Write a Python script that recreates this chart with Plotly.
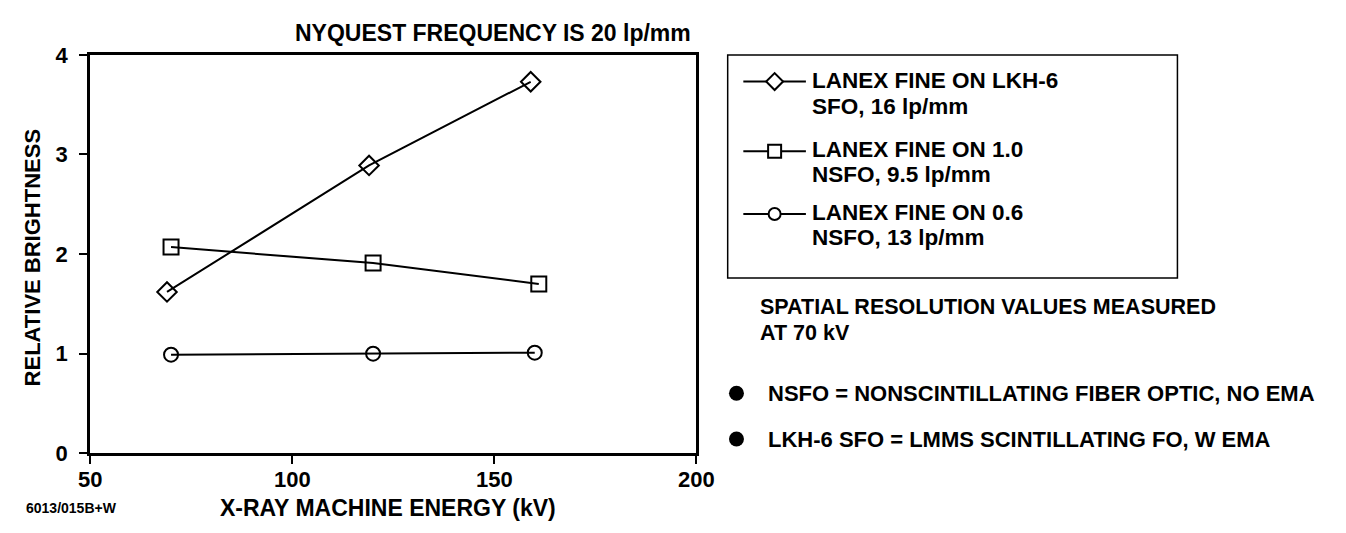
import plotly.graph_objects as go

W, H = 1346, 533

# ---- data ----
energy_lkh6 = [69, 119, 159]
bright_lkh6 = [1.62, 2.89, 3.73]
energy_10 = [70, 120, 161]
bright_10 = [2.07, 1.91, 1.70]
energy_06 = [70, 120, 160]
bright_06 = [0.99, 1.00, 1.01]

x_ticks = [50, 100, 150, 200]
y_ticks = [0, 1, 2, 3, 4]

series_names = [
    ["LANEX FINE ON LKH-6", "SFO, 16 lp/mm"],
    ["LANEX FINE ON 1.0", "NSFO, 9.5 lp/mm"],
    ["LANEX FINE ON 0.6", "NSFO, 13 lp/mm"],
]
symbols = ["diamond-open", "square-open", "circle-open"]
marker_sizes = [15, 15, 14]

title_text = "NYQUEST FREQUENCY IS 20 lp/mm"
x_title = "X-RAY MACHINE ENERGY (kV)"
y_title = "RELATIVE BRIGHTNESS"
note_lines = ["SPATIAL RESOLUTION VALUES MEASURED", "AT 70 kV"]
bullet_lines = ["NSFO = NONSCINTILLATING FIBER OPTIC, NO EMA",
                "LKH-6 SFO = LMMS SCINTILLATING FO, W EMA"]
footer_text = "6013/015B+W"

FONT = "Liberation Sans, Arial, Helvetica, sans-serif"


def px(x):
    return x / W


def py(y):
    return 1 - y / H


fig = go.Figure()

for xs, ys, sym, ms in zip([energy_lkh6, energy_10, energy_06],
                           [bright_lkh6, bright_10, bright_06], symbols, marker_sizes):
    fig.add_trace(go.Scatter(
        x=xs, y=ys, mode="lines+markers",
        line=dict(color="black", width=2),
        marker=dict(symbol=sym, size=ms, color="black", line=dict(width=2, color="black")),
        showlegend=False, hoverinfo="skip",
        xaxis="x", yaxis="y",
    ))

# ---- hand-drawn legend on an overlay pixel axis ----
leg_sym_y = [73, 146, 212]
leg_line_x = [748, 812]
leg_mark_x = 780
for sy, sym, ms in zip(leg_sym_y, symbols, marker_sizes):
    fig.add_trace(go.Scatter(
        x=leg_line_x, y=[sy, sy], mode="lines",
        line=dict(color="black", width=2),
        showlegend=False, hoverinfo="skip", xaxis="x2", yaxis="y2",
    ))
    fig.add_trace(go.Scatter(
        x=[leg_mark_x], y=[sy], mode="markers",
        marker=dict(symbol=sym.replace("-open", ""), size=ms - 2, color="white",
                    line=dict(width=2, color="black")),
        showlegend=False, hoverinfo="skip", xaxis="x2", yaxis="y2",
    ))

# bullets
bullet_y = [400, 448]
fig.add_trace(go.Scatter(
    x=[741, 741], y=bullet_y, mode="markers",
    marker=dict(symbol="circle", size=15, color="black"),
    showlegend=False, hoverinfo="skip", xaxis="x2", yaxis="y2",
))

annotations = []


def txt(text, x, y, size=22, xanchor="left", textangle=0):
    annotations.append(dict(
        text="<b>%s</b>" % text, x=px(x), y=py(y), xref="paper", yref="paper",
        xanchor=xanchor, yanchor="middle", showarrow=False, textangle=textangle,
        font=dict(family=FONT, size=size, color="black"),
    ))


leg_text_y = [(72, 99), (144, 171), (210, 237)]
for (l1, l2), (y1, y2) in zip(series_names, leg_text_y):
    txt(l1, 816, y1, size=22.5)
    txt(l2, 816, y2, size=22.5)

txt(note_lines[0], 763, 310, size=21.5)
txt(note_lines[1], 763, 337, size=21.5)
txt(bullet_lines[0], 771, 400, size=22)
txt(bullet_lines[1], 771, 449, size=22)

txt(title_text, 492, 22, size=23, xanchor="center")
txt(x_title, 385, 520, size=23, xanchor="center")
txt(y_title, 21, 258, size=22, xanchor="center", textangle=-90)
txt(footer_text, 12, 520, size=14)

shapes = [dict(type="rect", xref="paper", yref="paper",
               x0=px(732), x1=px(1192), y0=py(279), y1=py(45),
               line=dict(color="black", width=1.5), fillcolor="rgba(0,0,0,0)")]

axis_common = dict(showgrid=False, zeroline=False, showline=True, linecolor="black",
                   linewidth=3, mirror=True, ticks="outside", ticklen=8, tickwidth=1.5,
                   tickcolor="black",
                   tickfont=dict(family=FONT, size=22, color="black"))

fig.update_layout(
    width=W, height=H,
    margin=dict(l=0, r=0, t=0, b=0),
    paper_bgcolor="white", plot_bgcolor="rgba(0,0,0,0)",
    xaxis=dict(domain=[px(80), px(700)], range=[50, 200], tickvals=x_ticks,
               ticktext=["<b>%d</b>" % v for v in x_ticks], anchor="y",
               ticklabelstandoff=-4, **axis_common),
    yaxis=dict(domain=[py(463), py(45)], range=[0, 4], tickvals=y_ticks,
               ticktext=["<b>%d</b>" % v for v in y_ticks], anchor="x",
               ticklabelstandoff=7, **axis_common),
    xaxis2=dict(domain=[0, 1], range=[0, W], visible=False, anchor="y2", fixedrange=True),
    yaxis2=dict(domain=[0, 1], range=[H, 0], visible=False, anchor="x2", fixedrange=True),
    annotations=annotations,
    shapes=shapes,
    showlegend=False,
)

fig.write_html("out.html")
